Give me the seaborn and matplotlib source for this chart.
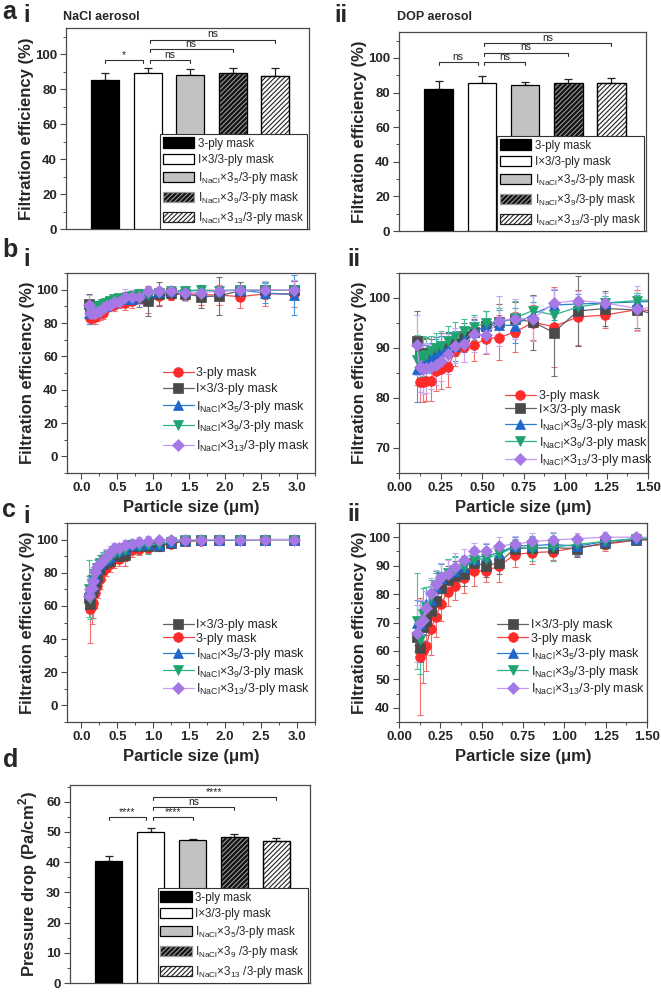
import matplotlib
matplotlib.use("Agg")
import matplotlib.pyplot as plt
from matplotlib.patches import Patch, Rectangle
from matplotlib.ticker import MultipleLocator, AutoMinorLocator
import numpy as np
import seaborn as sns

nan = np.nan

# ---- bar panels (a-i, a-ii, d) ----
BAR_KEYS = ["3ply", "ix3", "x35", "x39", "x313"]
BAR_LABELS = [
    "3-ply mask",
    "I×3/3-ply mask",
    r"I$_\mathregular{NaCl}$×3$_\mathregular{5}$/3-ply mask",
    r"I$_\mathregular{NaCl}$×3$_\mathregular{9}$/3-ply mask",
    r"I$_\mathregular{NaCl}$×3$_\mathregular{13}$/3-ply mask",
]
PRESSURE_LABELS = [
    "3-ply mask",
    "I×3/3-ply mask",
    r"I$_\mathregular{NaCl}$×3$_\mathregular{5}$/3-ply mask",
    r"I$_\mathregular{NaCl}$×3$_\mathregular{9}$ /3-ply mask",
    r"I$_\mathregular{NaCl}$×3$_\mathregular{13}$ /3-ply mask",
]
NACL_EFF = [85.5, 89.5, 88.2, 89.5, 87.5]
NACL_ERR = [3.6, 2.9, 3.1, 2.9, 4.7]
DOP_EFF = [82.0, 85.7, 84.4, 85.3, 85.8]
DOP_ERR = [4.5, 3.8, 1.6, 2.5, 2.7]
PRESSURE = [40.3, 49.8, 47.4, 48.2, 47.0]
PRESSURE_ERR = [1.7, 1.6, 0.1, 1.1, 0.9]

SIG_PAIRS = [(0, 1), (1, 2), (1, 3), (1, 4)]
NACL_SIG = ["*", "ns", "ns", "ns"]
NACL_SIG_Y = [96.5, 96.5, 102.9, 108.3]
DOP_SIG = ["ns", "ns", "ns", "ns"]
DOP_SIG_Y = [97.5, 97.5, 103.0, 108.6]
PRESSURE_SIG = ["****", "****", "ns", "****"]
PRESSURE_SIG_Y = [54.8, 54.8, 58.1, 61.4]

# ---- size-resolved efficiency (b, c) ----
SIZES = [0.107, 0.124, 0.143, 0.165, 0.191, 0.221, 0.255, 0.294, 0.340, 0.393, 0.454, 0.524,
         0.605, 0.699, 0.807, 0.932, 1.077, 1.243, 1.436, 1.659, 1.915, 2.212, 2.555, 2.951]

B_3PLY = [nan, 83.3, 83.3, 83.4, 83.5, 85.5, 85.8, 86.2, 89.4, 90.3, 90.6, 91.9,
          92.1, 93.2, 95.1, 94.3, 96.2, 96.6, 97.7, 97.0, 96.8, 95.8, 97.5, 97.5]
B_3PLY_ERR = [nan, 4, 4, 4, 4, 4, 4, 4, 3, 3, 3.2, 3, 4.5, 4, 3.5, 8, 5.5, 2.5, 4, 6, 6, 7, 7, 8]
B_IX3 = [91.5, 88.8, 88.8, 89.0, 88.9, 89.3, 90.0, 90.3, 91.0, 92.5, 93.3, 94.4,
         95.3, 95.8, 95.2, 93.1, 97.4, 97.9, 97.6, 95.8, 96.2, 99.5, 99.8, 100.0]
B_IX3_ERR = [6, 3, 3, 3, 3, 3, 3, 3, 2.5, 2.5, 2.5, 3, 3.5, 3.5, 5.5, 8.7, 7, 3.5, 3.5, 7, 11.5, 5, 5, 5]
B_X35 = [85.8, 86.2, 86.8, 87.2, 88.0, 88.8, 89.5, 90.0, 90.5, 91.8, 93.2, 94.4,
         94.6, 94.5, 96.8, 98.6, 98.8, 99.0, 99.2, 99.5, 99.5, 99.8, 98.0, 97.0]
B_X35_ERR = [6.5, 5, 4, 3.5, 3, 3, 3, 3, 3, 2.5, 2.5, 3, 3, 3.5, 2.5, 3, 2, 1.5, 1.5, 2, 2, 2, 6, 12]
B_X39 = [87.6, 88.2, 88.5, 88.7, 89.4, 90.1, 90.4, 91.5, 92.3, 93.4, 94.2, 95.0,
         95.1, 96.0, 97.5, 96.6, 98.2, 99.0, 99.5, 99.8, 99.4, 99.7, 99.6, 99.8]
B_X39_ERR = [5, 4, 4, 3.5, 3, 3, 3, 3, 3, 2.5, 2.5, 2.5, 3, 3.5, 3, 3, 2, 1.5, 1.5, 2, 2, 2, 5, 6]
B_X313 = [90.6, 86.2, 85.8, 86.0, 86.3, 86.6, 87.5, 88.8, 90.5, 90.8, 92.8, 92.6,
          95.5, 95.9, 95.9, 99.0, 99.5, 99.0, 97.9, 98.3, 99.0, 99.6, 100.0, 100.0]
B_X313_ERR = [6, 5, 5, 5, 4.5, 4, 4, 4, 3.5, 3.5, 3.5, 3.5, 5, 4, 4.5, 2.8, 2, 2, 4.5, 3, 3, 3, 5, 6]

C_3PLY = [nan, 58.0, 59.8, 61.8, 67.6, 72.0, 76.5, 80.8, 82.8, 85.5, 88.2, 88.2,
          89.8, 93.9, 94.6, 94.9, 96.4, 97.5, 99.0, 99.3, 99.6, 99.8, 99.9, 100.0]
C_3PLY_ERR = [nan, 20.5, 11, 9, 9, 7, 6, 5, 5, 5, 5.5, 4, 5.5, 4.5, 4, 3, 3, 2.5, 1.5, 1, 1, 0.5, 0.5, 0.5]
C_IX3 = [65.0, 61.0, 68.5, 70.5, 74.0, 77.5, 82.0, 85.0, 86.5, 87.0, 91.0, 90.0,
         91.0, 96.0, 96.2, 96.3, 96.0, 98.0, 99.0, 99.5, 99.7, 99.9, 100.0, 100.0]
C_IX3_ERR = [5, 5, 5, 5, 5, 5, 5, 5, 5, 4, 4, 4, 4, 3, 3, 3, 3, 2, 1.5, 1, 1, 0.5, 0.5, 0.5]
C_X35 = [70.0, 69.5, 72.0, 76.5, 78.0, 82.5, 85.5, 87.5, 88.0, 89.5, 92.5, 93.5,
         94.5, 97.0, 97.0, 97.5, 96.8, 98.5, 99.5, 99.7, 99.8, 99.9, 100.0, 100.0]
C_X35_ERR = [8, 8, 6, 6, 5, 5, 5, 5, 5, 4, 4, 4, 3.5, 3, 3, 3, 3, 2, 1.5, 1, 1, 0.5, 0.5, 0.5]
C_X39 = [70.5, 64.0, 73.0, 75.5, 79.0, 83.0, 86.0, 87.5, 88.5, 89.5, 92.0, 92.5,
         94.0, 96.5, 96.0, 96.5, 97.5, 98.5, 99.5, 99.7, 99.8, 99.9, 100.0, 100.0]
C_X39_ERR = [17, 12, 9, 7, 6, 5, 5, 5, 5, 4, 4, 4, 4, 3, 4.5, 5, 3, 2, 1.5, 1, 1, 0.5, 0.5, 0.5]
C_X313 = [66.2, 70.0, 71.0, 75.0, 80.5, 83.5, 86.0, 87.0, 89.5, 92.0, 95.0, 95.0,
          97.0, 97.5, 98.5, 99.0, 99.5, 100.0, 100.0, 100.0, 100.0, 100.0, 100.0, 100.0]
C_X313_ERR = [10, 8, 7, 6, 5, 5, 5, 5, 5, 4, 3, 3, 3, 3, 3, 3, 2, 2, 1.5, 1, 1, 0.5, 0.5, 0.5]

B_SERIES = {"3ply": (B_3PLY, B_3PLY_ERR), "ix3": (B_IX3, B_IX3_ERR), "x35": (B_X35, B_X35_ERR),
            "x39": (B_X39, B_X39_ERR), "x313": (B_X313, B_X313_ERR)}
C_SERIES = {"3ply": (C_3PLY, C_3PLY_ERR), "ix3": (C_IX3, C_IX3_ERR), "x35": (C_X35, C_X35_ERR),
            "x39": (C_X39, C_X39_ERR), "x313": (C_X313, C_X313_ERR)}
LABEL_OF = dict(zip(BAR_KEYS, BAR_LABELS))

# styles: line colour, marker colour, error-bar colour, marker
LINE_STYLE = {
    "3ply": ("#f04848", "#ff2a2a", "#f07070", "o"),
    "ix3": ("#6b5f6e", "#4a4a4a", "#707070", "s"),
    "x35": ("#2a7fd4", "#1f66cc", "#4a94de", "^"),
    "x39": ("#2fb38a", "#1fa36f", "#45c29c", "v"),
    "x313": ("#c59af0", "#a678e6", "#c8a6f0", "D"),
}
# bar styles: facecolor, hatch-colour, hatch
BAR_STYLE = {
    "3ply": ("black", "black", ""),
    "ix3": ("white", "black", ""),
    "x35": ("#c2c2c2", "#a0a0a0", ""),
    "x39": ("#111111", "#9a9a9a", "///////"),
    "x313": ("white", "#222222", "///////"),
}

W, H = 661, 992


def rect(l, t, r, b):
    return [l / W, 1 - b / H, (r - l) / W, (b - t) / H]


def style_axes(ax):
    for sp in ax.spines.values():
        sp.set_color("#4a4a4a")
        sp.set_linewidth(0.9)
    ax.tick_params(which="both", direction="out", color="#4a4a4a", labelsize=9.5, pad=2.5)
    ax.tick_params(which="major", length=4, width=0.8)
    ax.tick_params(which="minor", length=2.5, width=0.7)
    for lab in ax.get_xticklabels() + ax.get_yticklabels():
        lab.set_fontweight("bold")


def bar_panel(ax, values, errs, labels, ylabel, ylim, ystep, sig, sig_y, label_x):
    xs = np.arange(len(values))
    sns.barplot(x=xs, y=values, ax=ax, width=0.66, color="white", edgecolor="black",
                linewidth=0.9, errorbar=None, native_scale=True, zorder=3)
    ax.errorbar(xs, values, yerr=[np.zeros(len(errs)), errs], fmt="none", ecolor="#222222",
                elinewidth=0.9, capsize=3, capthick=0.9, zorder=2)
    handles = []
    for patch, key, lab in zip(ax.patches, BAR_KEYS, labels):
        fc, hc, hatch = BAR_STYLE[key]
        patch.set_facecolor(fc)
        if hatch:
            patch.set_hatch(hatch)
            patch.set_edgecolor(hc)
            ax.add_patch(Rectangle((patch.get_x(), patch.get_y()), patch.get_width(),
                                   patch.get_height(), fill=False, edgecolor="black",
                                   linewidth=0.9, zorder=4))
        handles.append(Patch(facecolor=fc, edgecolor=hc if hatch else "black", hatch=hatch,
                             linewidth=0.9, label=lab))
    ymax = ylim[1]
    dh = 0.015 * ymax
    for (i, j), txt, y in zip(SIG_PAIRS, sig, sig_y):
        x0 = i if i == 0 else i + 0.05
        x1 = j - 0.1 if i == 0 else j
        ax.plot([x0, x0, x1, x1], [y - dh, y, y, y - dh], color="#333333", lw=0.8, zorder=5)
        ax.text((x0 + x1) / 2, y + 0.002 * ymax, txt, ha="center", va="bottom", fontsize=7.5,
                color="#222222")
    ax.set_xlim(-0.92, 4.8)
    ax.set_ylim(*ylim)
    ax.set_xticks([])
    ax.set_xlabel("")
    ax.yaxis.set_major_locator(MultipleLocator(ystep))
    ax.yaxis.set_minor_locator(AutoMinorLocator(2))
    ax.set_ylabel(ylabel, fontsize=12, fontweight="bold")
    ax.yaxis.set_label_coords(label_x, 0.5)
    style_axes(ax)
    leg = ax.legend(handles=handles, loc="lower right", bbox_to_anchor=(0.99, 0.0),
                    fontsize=8.4, frameon=True, fancybox=False, framealpha=1,
                    edgecolor="#333333", handlelength=2.7, handleheight=1.0,
                    handletextpad=0.3, labelspacing=0.35, borderpad=0.25,
                    borderaxespad=0.0)
    leg.get_frame().set_linewidth(0.8)
    leg.set_zorder(10)


def line_panel(ax, series, order, xlim, xstep, ylim, ystep, yminor, leg_anchor, spacing):
    for key in ["3ply", "ix3", "x35", "x39", "x313"]:
        vals, errs = series[key]
        lc, mc, ec, mk = LINE_STYLE[key]
        ax.errorbar(SIZES, vals, yerr=errs, fmt="none", ecolor=ec, elinewidth=0.8,
                    capsize=2, capthick=0.8, label="_nolegend_", zorder=2)
        sns.lineplot(x=SIZES, y=vals, ax=ax, color=lc, marker=mk,
                     markersize=7 if mk != "D" else 6,
                     markerfacecolor=mc, markeredgecolor=mc, markeredgewidth=0.5,
                     linewidth=0.9, estimator=None, label=LABEL_OF[key], zorder=3)
    handles, labels = ax.get_legend_handles_labels()
    hmap = dict(zip(labels, handles))
    ax.legend([hmap[LABEL_OF[k]] for k in order], [LABEL_OF[k] for k in order],
              loc="lower left", bbox_to_anchor=leg_anchor, frameon=False, fontsize=9,
              handlelength=2.5, handletextpad=0.2, labelspacing=spacing, borderpad=0.2)
    ax.set_xlim(*xlim)
    ax.set_ylim(*ylim)
    ax.xaxis.set_major_locator(MultipleLocator(xstep))
    ax.xaxis.set_minor_locator(AutoMinorLocator(2))
    ax.yaxis.set_major_locator(MultipleLocator(ystep))
    ax.yaxis.set_minor_locator(MultipleLocator(yminor))
    ax.set_xlabel("Particle size (μm)", fontsize=12, fontweight="bold")
    ax.xaxis.set_label_coords(0.5, -0.135)
    ax.set_ylabel("Filtration efficiency (%)", fontsize=12, fontweight="bold")
    ax.yaxis.set_label_coords(-0.13, 0.5)
    style_axes(ax)


def main():
    sns.set_theme(style="ticks")
    plt.rcParams["font.family"] = ["Liberation Sans", "DejaVu Sans"]
    plt.rcParams["mathtext.fontset"] = "custom"
    plt.rcParams["mathtext.rm"] = "Liberation Sans"
    plt.rcParams["hatch.linewidth"] = 0.8

    fig = plt.figure(figsize=(W / 100, H / 100), dpi=100)

    ax_ai = fig.add_axes(rect(66, 28, 309, 229))
    bar_panel(ax_ai, NACL_EFF, NACL_ERR, BAR_LABELS, "Filtration efficiency (%)",
              (0, 115), 20, NACL_SIG, NACL_SIG_Y, -0.13)
    ax_aii = fig.add_axes(rect(399, 32, 646, 231))
    bar_panel(ax_aii, DOP_EFF, DOP_ERR, BAR_LABELS, "Filtration efficiency (%)",
              (0, 115), 20, DOP_SIG, DOP_SIG_Y, -0.13)

    order_b = ["3ply", "ix3", "x35", "x39", "x313"]
    order_c = ["ix3", "3ply", "x35", "x39", "x313"]
    ax_bi = fig.add_axes(rect(67, 273, 315, 473))
    line_panel(ax_bi, B_SERIES, order_b, (-0.2, 3.25), 0.5, (-10, 110), 20, 10, (0.35, 0.05), 0.3)
    ax_bii = fig.add_axes(rect(399, 273, 648, 473))
    line_panel(ax_bii, B_SERIES, order_b, (0, 1.5), 0.25, (65, 105), 10, 5, (0.39, -0.02), 0.12)
    ax_ci = fig.add_axes(rect(67, 523, 315, 722))
    line_panel(ax_ci, C_SERIES, order_c, (-0.2, 3.25), 0.5, (-10, 110), 20, 10, (0.35, 0.08), 0.12)
    ax_cii = fig.add_axes(rect(399, 523, 647, 722))
    line_panel(ax_cii, C_SERIES, order_c, (0, 1.5), 0.25, (35, 105), 10, 5, (0.36, 0.08), 0.12)

    ax_d = fig.add_axes(rect(70, 785, 310, 983))
    bar_panel(ax_d, PRESSURE, PRESSURE_ERR, PRESSURE_LABELS, "Pressure drop (Pa/cm$^\\mathregular{2}$)",
              (0, 65.5), 10, PRESSURE_SIG, PRESSURE_SIG_Y, -0.125)

    # panel letters and titles
    def ftext(x, y, s, size, weight="bold"):
        fig.text(x / W, 1 - y / H, s, fontsize=size, fontweight=weight, va="top", ha="left")

    ftext(2, 0, "a", 18)
    ftext(23, 4, "i", 17)
    ftext(334, 4, "ii", 17)
    ftext(63, 11, "NaCl aerosol", 9)
    ftext(397, 11, "DOP aerosol", 9)
    ftext(2, 238, "b", 18)
    ftext(23, 248, "i", 17)
    ftext(347, 248, "ii", 17)
    ftext(2, 498, "c", 18)
    ftext(23, 505, "i", 17)
    ftext(347, 503, "ii", 17)
    ftext(3, 748, "d", 18)

    fig.savefig("out.png", dpi=100)
    plt.close(fig)


if __name__ == "__main__":
    main()
